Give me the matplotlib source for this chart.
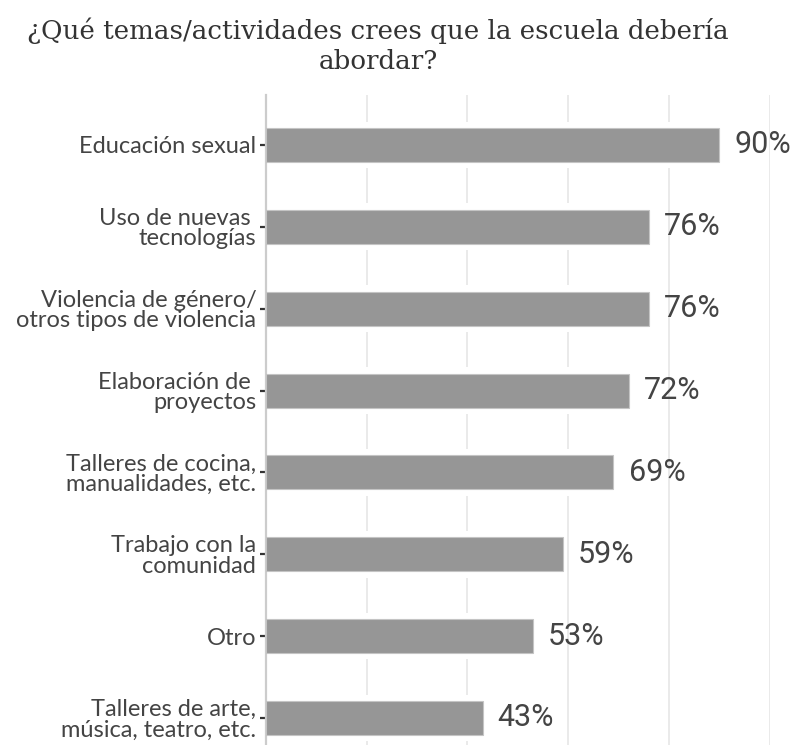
import matplotlib.pyplot as plt
import numpy as np

categorias = [
    "Talleres de arte,\nmúsica, teatro, etc.",
    "Otro",
    "Trabajo con la\ncomunidad",
    "Talleres de cocina,\nmanualidades, etc.",
    "Elaboración de \nproyectos",
    "Violencia de género/\notros tipos de violencia",
    "Uso de nuevas \ntecnologías",
    "Educación sexual",
]
porcentajes = [43, 53, 59, 69, 72, 76, 76, 90]
grid_ticks = [0, 20, 40, 60, 80, 100]

titulo = "¿Qué temas/actividades crees que la escuela debería\nabordar?"

fig = plt.figure(figsize=(7.94, 7.45), dpi=100)
ax = fig.add_axes([266 / 794, 0.0, (769.5 - 266) / 794, 1 - 95 / 745])

y = np.arange(len(categorias))

# white underlay breaks the grid lines around each bar
ax.barh(y, porcentajes, height=0.57, color="white", zorder=2)
ax.barh(y, porcentajes, height=0.415, color="#969696",
        edgecolor="#c4c4c4", linewidth=0.8, zorder=3)

for yi, v in zip(y, porcentajes):
    ax.text(v + 3.0, yi, f"{v}%", ha="left", va="center",
            fontsize=22, family="Roboto", color="#444444", zorder=4)

ax.set_xlim(0, 100)
ax.set_ylim(-0.33, 7.61)
ax.set_xticks(grid_ticks)
ax.tick_params(axis="x", length=0, labelbottom=False)
ax.grid(axis="x", color="#e8e8e8", linewidth=1.3, zorder=1)
ax.set_axisbelow(True)

ax.set_yticks(y)
ax.set_yticklabels(categorias, fontsize=17, family="Lato", color="#444444",
                   multialignment="right", linespacing=0.98)
ax.tick_params(axis="y", length=4, width=1.6, color="#333333", pad=3)

for side in ["top", "right", "bottom"]:
    ax.spines[side].set_visible(False)
ax.spines["left"].set_color("#cccccc")
ax.spines["left"].set_linewidth(1.6)

fig.text(378 / 794, 1 - 46 / 745, titulo, ha="center", va="center",
         fontsize=18.8, family="DejaVu Serif", color="#333333",
         linespacing=1.25)

fig.savefig("out.png", dpi=100)
